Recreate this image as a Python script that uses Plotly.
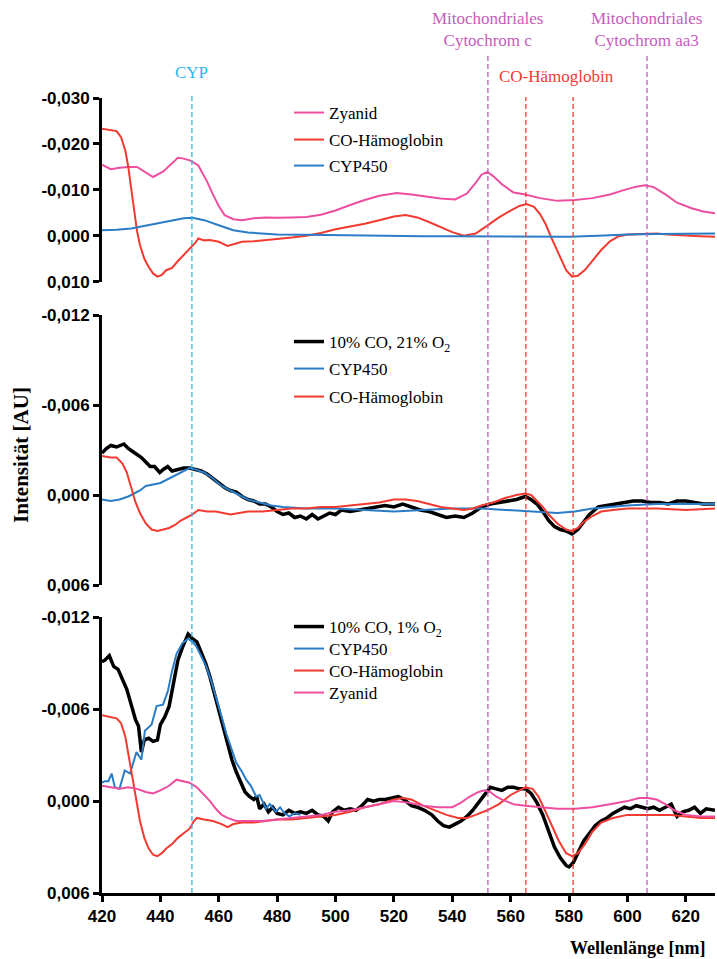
import plotly.graph_objects as go

# ---------------- data ----------------
# Panel 1: reference spectra
p1_cn_wl = [420, 423, 426, 429, 432, 435, 437.5, 441, 444, 446, 448, 450.5, 453, 456, 458, 460, 462, 465, 468,
            472, 476, 480, 485, 490, 495, 500, 505, 510, 515, 521, 526, 531, 536, 541, 545, 548, 550, 552, 554,
            557, 561, 565, 570, 576, 582, 588, 594, 599, 603, 606, 609, 613, 617, 622, 626, 630]
p1_cn_val = [-0.0155, -0.0145, -0.0148, -0.0150, -0.0150, -0.0138, -0.0128, -0.0140, -0.0158, -0.0170, -0.0168,
             -0.0163, -0.0153, -0.0118, -0.0090, -0.0065, -0.0045, -0.0036, -0.0034, -0.0038, -0.0040, -0.0039,
             -0.0040, -0.0041, -0.0046, -0.0055, -0.0067, -0.0078, -0.0087, -0.0093, -0.0090, -0.0085, -0.0081,
             -0.0079, -0.0092, -0.0115, -0.0133, -0.0139, -0.0130, -0.0112, -0.0094, -0.0090, -0.0082, -0.0076,
             -0.0078, -0.0082, -0.0090, -0.0100, -0.0107, -0.0110, -0.0106, -0.0090, -0.0072, -0.0060, -0.0053,
             -0.0049]

p1_hb_wl = [420, 423, 425, 426.5, 428, 429, 430, 431, 432, 433, 434.5, 436, 437.5, 439, 440.5, 442, 444, 446, 448,
            450, 452, 453, 455, 457, 460, 463, 465, 468, 472, 476, 480, 485, 490, 495, 500, 505, 510, 515, 520,
            524, 528, 532, 536, 540, 544, 548, 552, 556, 560, 563, 565.5, 568, 570, 572, 574, 576.5, 579, 581,
            583, 585.5, 588, 591, 594, 597, 600, 605, 610, 615, 620, 625, 630]
p1_hb_val = [-0.0233, -0.0230, -0.0228, -0.0215, -0.0185, -0.0150, -0.0105, -0.0060, -0.0010, 0.0020, 0.0050,
             0.0068, 0.0082, 0.0089, 0.0085, 0.0075, 0.0070, 0.0055, 0.0042, 0.0028, 0.0015, 0.0006, 0.0010,
             0.0009, 0.0013, 0.0022, 0.0018, 0.0013, 0.0012, 0.0010, 0.0008, 0.0004, 0.0000, -0.0006, -0.0014,
             -0.0020, -0.0026, -0.0034, -0.0042, -0.0045, -0.0040, -0.0030, -0.0019, -0.0008, 0.0000, -0.0005,
             -0.0022, -0.0040, -0.0055, -0.0065, -0.0069, -0.0063, -0.0048, -0.0025, 0.0005, 0.0040, 0.0075,
             0.0089, 0.0087, 0.0074, 0.0055, 0.0031, 0.0012, 0.0001, -0.0003, -0.0004, -0.0005, -0.0002, 0.0000,
             0.0001, 0.0002]

p1_cyp_wl = [420, 425, 430, 435, 440, 445, 448, 451, 455, 460, 465, 470, 475, 480, 490, 500, 510, 520, 530, 540,
             550, 560, 570, 580, 590, 600, 610, 620, 630]
p1_cyp_val = [-0.0012, -0.0013, -0.0016, -0.0022, -0.0028, -0.0034, -0.0038, -0.0039, -0.0034, -0.0023, -0.0012,
              -0.0007, -0.0005, -0.0003, -0.0002, -0.0001, 0.0000, 0.0001, 0.0001, 0.0001, 0.0001, 0.0002, 0.0002,
              0.0002, 0.0000, -0.0003, -0.0004, -0.0004, -0.0005]

# Panel 2: 10% CO, 21% O2
p2_meas_wl = [420, 421.5, 423, 425, 427.5, 429, 430.5, 432, 433.5, 435, 436.5, 438, 439.8, 441, 442.5, 444, 446,
              448, 450, 452, 454, 456, 458, 460, 462, 464, 466, 468, 470, 472, 474, 476, 478, 480, 482, 484, 486,
              488, 490, 492, 494, 496, 498, 500, 502, 505, 508, 511, 514, 517, 520, 523, 526, 529, 532, 535, 538,
              541, 544, 547, 550, 553, 556, 559, 562, 565, 567, 569, 571, 573, 575, 577, 579, 581, 583, 585, 587,
              590, 593, 596, 599, 602, 605, 608, 611, 614, 617, 620, 623, 626, 630]
p2_meas_val = [-0.0028, -0.0031, -0.0033, -0.0032, -0.0034, -0.0031, -0.0029, -0.0027, -0.0025, -0.0022, -0.0019,
               -0.0019, -0.0015, -0.0017, -0.0019, -0.0016, -0.0017, -0.0018, -0.0018, -0.0017, -0.0016, -0.0014,
               -0.0011, -0.0008, -0.0005, -0.0003, -0.0002, 0.0001, 0.0003, 0.0004, 0.0006, 0.0006, 0.0008, 0.0011,
               0.0013, 0.0012, 0.0015, 0.0014, 0.0016, 0.0013, 0.0016, 0.0014, 0.0012, 0.0013, 0.0010, 0.0011,
               0.0010, 0.0009, 0.0008, 0.0007, 0.0008, 0.0006, 0.0008, 0.0010, 0.0011, 0.0013, 0.0015, 0.0014,
               0.0015, 0.0012, 0.0008, 0.0006, 0.0005, 0.0004, 0.0003, 0.0001, 0.0003, 0.0006, 0.0011, 0.0017,
               0.0021, 0.0023, 0.0024, 0.0026, 0.0023, 0.0018, 0.0013, 0.0008, 0.0007, 0.0006, 0.0005, 0.0004,
               0.0004, 0.0005, 0.0005, 0.0006, 0.0004, 0.0004, 0.0005, 0.0006, 0.0006]

p2_cyp_wl = [420, 423, 426, 429, 431, 433, 435, 438, 440, 443, 446, 448, 450, 452, 455, 458, 461, 464, 467, 470,
             474, 478, 482, 490, 500, 510, 520, 530, 540, 550, 560, 570, 576, 582, 588, 594, 600, 610, 620, 630]
p2_cyp_val = [0.0003, 0.0004, 0.0003, 0.0001, -0.0001, -0.0003, -0.0006, -0.0007, -0.0008, -0.0011, -0.0014,
              -0.0016, -0.0018, -0.0017, -0.0015, -0.0011, -0.0006, -0.0003, 0.0000, 0.0003, 0.0005, 0.0007,
              0.0008, 0.0009, 0.0009, 0.0010, 0.0011, 0.0010, 0.0009, 0.0009, 0.0010, 0.0011, 0.0012, 0.0011,
              0.0009, 0.0008, 0.0007, 0.0006, 0.0006, 0.0006]

p2_hb_wl = [420, 423, 425, 427, 428.5, 430, 431.5, 433, 435, 437, 439, 441, 443, 445, 447, 449, 451, 453, 456, 459,
            462, 464, 467, 470, 475, 480, 485, 490, 495, 500, 505, 510, 515, 520, 524, 528, 532, 536, 540, 544,
            547, 550, 554, 558, 562, 565, 567, 569, 571, 573, 576, 579, 581, 583, 585, 588, 591, 595, 600, 610,
            620, 630]
p2_hb_val = [-0.0026, -0.0025, -0.0025, -0.0021, -0.0015, -0.0005, 0.0005, 0.0012, 0.0019, 0.0023, 0.0024, 0.0023,
             0.0022, 0.0020, 0.0017, 0.0015, 0.0013, 0.0010, 0.0011, 0.0011, 0.0012, 0.0013, 0.0012, 0.0011,
             0.0011, 0.0010, 0.0009, 0.0009, 0.0008, 0.0008, 0.0007, 0.0006, 0.0005, 0.0003, 0.0003, 0.0004,
             0.0006, 0.0008, 0.0009, 0.0010, 0.0009, 0.0007, 0.0005, 0.0002, 0.0000, -0.0001, 0.0000, 0.0004,
             0.0008, 0.0013, 0.0019, 0.0023, 0.0024, 0.0022, 0.0018, 0.0014, 0.0011, 0.0010, 0.0009, 0.0009,
             0.0010, 0.0009]

# Panel 3: 10% CO, 1% O2
p3_meas_wl = [420, 421, 422.5, 424, 425.5, 427, 428.5, 430, 431.5, 432.5, 433.5, 434.5, 436, 437.5, 439, 440,
              441.5, 443, 444.5, 446, 447.5, 449.5, 451, 452.5, 454, 455.5, 457, 458.5, 460, 461.5, 463, 464.5,
              466, 467.5, 469, 470.5, 472, 473, 474, 475.5, 477, 478.5, 480, 482, 484, 486, 488, 490, 492, 494,
              496, 497.5, 499, 501, 503, 505, 507, 509, 511, 513, 515, 517, 519, 521.5, 523.5, 526, 528, 530.5,
              533, 535, 537, 539, 541, 543, 545, 547, 549, 551, 553, 555, 557, 559, 561, 563, 565, 567, 569, 571,
              573, 575, 577, 579, 580, 581.5, 583, 585, 587, 589, 591, 593, 595, 597, 599, 601, 603, 605, 607,
              609, 611, 613, 615, 617, 619, 621, 623, 625, 627, 630]
p3_meas_val = [-0.0091, -0.0092, -0.0095, -0.0088, -0.0086, -0.0079, -0.0073, -0.0063, -0.0053, -0.0049, -0.0032,
               -0.0040, -0.0041, -0.0039, -0.0040, -0.0050, -0.0055, -0.0062, -0.0078, -0.0092, -0.0100, -0.0109,
               -0.0106, -0.0104, -0.0097, -0.0090, -0.0081, -0.0070, -0.0058, -0.0047, -0.0036, -0.0027, -0.0019,
               -0.0013, -0.0006, -0.0003, -0.0001, -0.0003, 0.0005, 0.0002, 0.0007, 0.0004, 0.0008, 0.0009,
               0.0006, 0.0008, 0.0007, 0.0008, 0.0006, 0.0009, 0.0010, 0.0013, 0.0007, 0.0004, 0.0006, 0.0005,
               0.0006, 0.0003, -0.0001, 0.0000, -0.0001, -0.0001, -0.0002, -0.0003, -0.0001, 0.0003, 0.0004,
               0.0006, 0.0009, 0.0013, 0.0016, 0.0017, 0.0015, 0.0013, 0.0010, 0.0006, 0.0001, -0.0004, -0.0009,
               -0.0008, -0.0007, -0.0009, -0.0009, -0.0008, -0.0008, -0.0005, 0.0001, 0.0009, 0.0019, 0.0030,
               0.0037, 0.0042, 0.0043, 0.0040, 0.0034, 0.0026, 0.0021, 0.0016, 0.0013, 0.0011, 0.0008, 0.0006,
               0.0004, 0.0005, 0.0003, 0.0004, 0.0005, 0.0004, 0.0006, 0.0004, 0.0002, 0.0010, 0.0007, 0.0006,
               0.0004, 0.0008, 0.0005, 0.0006]

p3_cyp_wl = [420, 421, 422.2, 423.3, 424.4, 426, 427.8, 429.6, 431.8, 433.5, 434.7, 437, 438.7, 440.9, 442.6, 444,
             445.5, 447.5, 449.5, 451, 452.3, 454, 455.7, 457.5, 459.1, 461, 462.6, 464.3, 466, 468, 469.4, 471,
             472.8, 474, 475, 476.2, 477.5, 479.6, 481, 482.5, 484.2, 486, 488]
p3_cyp_val = [-0.0012, -0.0013, -0.0013, -0.0018, -0.0009, -0.0008, -0.0020, -0.0018, -0.0032, -0.0027, -0.0046,
              -0.0050, -0.0062, -0.0063, -0.0072, -0.0085, -0.0096, -0.0103, -0.0106, -0.0104, -0.0101, -0.0095,
              -0.0088, -0.0078, -0.0068, -0.0055, -0.0044, -0.0034, -0.0025, -0.0019, -0.0014, -0.0010, -0.0003,
              -0.0004, 0.0000, 0.0005, 0.0002, 0.0007, 0.0004, 0.0008, 0.0010, 0.0008, 0.0009]

p3_hb_wl = [420, 423, 425, 426.5, 428, 429, 430, 431, 432, 433, 434.5, 436, 437.5, 439, 440.5, 442, 444, 446, 448,
            450, 451.5, 452.5, 455, 458, 461, 463, 465, 468, 472, 476, 480, 485, 490, 495, 500, 505, 510, 515, 520,
            523, 526, 530, 534, 538, 542, 545, 548, 552, 556, 560, 563, 565, 567.5, 569.5, 571.5, 574, 576.5, 579,
            581, 583, 585.5, 588, 591, 595, 600, 605, 610, 615, 620, 625, 630]
p3_hb_val = [-0.0056, -0.0055, -0.0054, -0.0051, -0.0042, -0.0031, -0.0020, -0.0008, 0.0003, 0.0013, 0.0024,
             0.0031, 0.0035, 0.0036, 0.0034, 0.0031, 0.0028, 0.0024, 0.0021, 0.0018, 0.0013, 0.0011, 0.0012,
             0.0013, 0.0015, 0.0017, 0.0015, 0.0014, 0.0014, 0.0013, 0.0012, 0.0012, 0.0011, 0.0010, 0.0009,
             0.0007, 0.0004, 0.0002, -0.0001, -0.0002, -0.0001, 0.0003, 0.0006, 0.0009, 0.0011, 0.0011, 0.0009,
             0.0006, 0.0002, -0.0004, -0.0007, -0.0009, -0.0008, -0.0003, 0.0005, 0.0015, 0.0026, 0.0034, 0.0036,
             0.0034, 0.0028, 0.0020, 0.0014, 0.0011, 0.0009, 0.0009, 0.0009, 0.0009, 0.0010, 0.0011, 0.0011]

p3_cn_wl = [420, 423, 426, 429, 432, 435, 437.5, 440, 443, 445.5, 447.5, 450, 452.5, 455, 457, 459, 461, 463, 466,
            470, 475, 480, 485, 490, 495, 500, 505, 510, 515, 520, 525, 530, 535, 540, 543, 546, 549, 551, 553,
            555, 557, 561, 565, 570, 576, 582, 588, 594, 600, 604, 607, 610, 613, 616, 620, 625, 630]
p3_cn_val = [-0.0010, -0.0009, -0.0008, -0.0009, -0.0008, -0.0006, -0.0005, -0.0007, -0.0010, -0.0014, -0.0013,
             -0.0012, -0.0009, -0.0004, 0.0000, 0.0005, 0.0009, 0.0011, 0.0013, 0.0013, 0.0013, 0.0012, 0.0011,
             0.0010, 0.0009, 0.0007, 0.0006, 0.0004, 0.0002, 0.0000, 0.0001, 0.0003, 0.0004, 0.0004, 0.0001,
             -0.0003, -0.0006, -0.0007, -0.0006, -0.0003, -0.0001, 0.0002, 0.0003, 0.0004, 0.0005, 0.0005, 0.0004,
             0.0002, 0.0000, -0.0002, -0.0002, -0.0001, 0.0002, 0.0006, 0.0009, 0.0010, 0.0010]

# marker wavelengths (nm) of the characteristic bands
cyp_band = [450.8]
mito_bands = [552.2, 606.7]
mito_labels = ["Mitochondriales<br>Cytochrom c", "Mitochondriales<br>Cytochrom aa3"]
cohb_bands = [565.2, 581.4]
cohb_label_x = 575.8

# axes
x_ticks = [420, 440, 460, 480, 500, 520, 540, 560, 580, 600, 620]
p1_ticks = [-0.030, -0.020, -0.010, 0.000, 0.010]
p1_ticktext = ["-0,030", "-0,020", "-0,010", "0,000", "0,010"]
p23_ticks = [-0.012, -0.006, 0.000, 0.006]
p23_ticktext = ["-0,012", "-0,006", "0,000", "0,006"]

# ---------------- style ----------------
C_CN = "#ee4e9f"
C_HB = "#f23a30"
C_CYP = "#2a7cc6"
C_MEAS = "#000000"
C_CYP_MARK = "#2ab6e6"
C_MITO_MARK = "#c45cbd"

W, H = 717, 959
ML, MR, MT, MB = 102, 2, 98, 66
plot_h = H - MT - MB
plot_w = W - ML - MR
base = H - MB


def fy(py):
    """pixel row -> paper fraction"""
    return (base - py) / plot_h


def fx(px):
    """pixel column -> paper fraction"""
    return (px - ML) / plot_w


def dom(py_bottom, py_top):
    return [max(0.0, fy(py_bottom)), min(1.0, fy(py_top))]


SERIF = "Liberation Serif"
SANS = "Liberation Sans"

fig = go.Figure()

# each legend entry is its own small legend so that the rows can sit freely
LEG_X = 289
legend_layout = {}
legend_count = [0]


def add(x, y, name, color, width, yaxis, row_py):
    legend_count[0] += 1
    key = "legend" if legend_count[0] == 1 else f"legend{legend_count[0]}"
    legend_layout[key] = dict(
        x=fx(LEG_X), y=fy(row_py - 17), xanchor="left", yanchor="top",
        font=dict(family=SERIF, size=17, color="black"), bgcolor="rgba(0,0,0,0)", itemwidth=30,
    )
    fig.add_trace(go.Scatter(
        x=x, y=y, name=name, mode="lines",
        line=dict(color=color, width=width),
        xaxis="x", yaxis=yaxis, legend=key,
    ))


add(p1_cn_wl, p1_cn_val, "Zyanid", C_CN, 2, "y", 112)
add(p1_hb_wl, p1_hb_val, "CO-Hämoglobin", C_HB, 2, "y", 139)
add(p1_cyp_wl, p1_cyp_val, "CYP450", C_CYP, 2, "y", 165)

add(p2_meas_wl, p2_meas_val, "10% CO, 21% O<sub>2</sub>", C_MEAS, 3.5, "y2", 341)
add(p2_cyp_wl, p2_cyp_val, "CYP450", C_CYP, 2, "y2", 368)
add(p2_hb_wl, p2_hb_val, "CO-Hämoglobin", C_HB, 2, "y2", 396)

add(p3_meas_wl, p3_meas_val, "10% CO, 1% O<sub>2</sub>", C_MEAS, 3.5, "y3", 626)
add(p3_cyp_wl, p3_cyp_val, "CYP450", C_CYP, 2, "y3", 648)
add(p3_hb_wl, p3_hb_val, "CO-Hämoglobin", C_HB, 2, "y3", 670)
add(p3_cn_wl, p3_cn_val, "Zyanid", C_CN, 2, "y3", 692)

tickfont = dict(family=SANS, size=17, color="black", weight="bold")
yax_common = dict(
    anchor="x", showgrid=False, zeroline=False, showline=True, linecolor="black", linewidth=3,
    ticks="outside", ticklen=6, tickwidth=2.5, tickcolor="black", tickfont=tickfont, fixedrange=True,
)

fig.update_layout(
    width=W, height=H,
    margin=dict(l=ML, r=MR, t=MT, b=MB),
    paper_bgcolor="white", plot_bgcolor="rgba(0,0,0,0)",
    showlegend=True,
    xaxis=dict(
        range=[420, 630], anchor="y3", tickvals=x_ticks, showgrid=False, zeroline=False,
        showline=True, linecolor="black", linewidth=3, ticks="outside", ticklen=6, tickwidth=2.5,
        tickcolor="black", tickfont=tickfont,
    ),
    yaxis=dict(domain=dom(281.7, 97.7), range=[0.010, -0.030],
               tickvals=p1_ticks, ticktext=p1_ticktext, **yax_common),
    yaxis2=dict(domain=dom(585, 315), range=[0.006, -0.012],
                tickvals=p23_ticks, ticktext=p23_ticktext, **yax_common),
    yaxis3=dict(domain=dom(893, 617.3), range=[0.006, -0.012],
                tickvals=p23_ticks, ticktext=p23_ticktext, **yax_common),
    **legend_layout,
)

# dashed band markers
shapes = []
for b in cyp_band:
    shapes.append(dict(type="line", xref="x", yref="paper", x0=b, x1=b, y0=0, y1=fy(95),
                       line=dict(color=C_CYP_MARK, width=1.3, dash="5px,3px")))
for b in mito_bands:
    shapes.append(dict(type="line", xref="x", yref="paper", x0=b, x1=b, y0=0, y1=fy(55),
                       line=dict(color=C_MITO_MARK, width=1.3, dash="5px,3px")))
for b in cohb_bands:
    shapes.append(dict(type="line", xref="x", yref="paper", x0=b, x1=b, y0=0, y1=fy(97),
                       line=dict(color=C_HB, width=1.3, dash="5px,3px")))
fig.update_layout(shapes=shapes)

ann_font = dict(family=SERIF, size=17)
annotations = [
    dict(x=cyp_band[0], y=fy(72), xref="x", yref="paper", text="CYP", showarrow=False,
         font=dict(color=C_CYP_MARK, **ann_font), xanchor="center", yanchor="middle"),
    dict(x=cohb_label_x, y=fy(76), xref="x", yref="paper", text="CO-Hämoglobin", showarrow=False,
         font=dict(color=C_HB, **ann_font), xanchor="center", yanchor="middle"),
]
for b, lab in zip(mito_bands, mito_labels):
    annotations.append(dict(x=b, y=fy(29), xref="x", yref="paper", text=lab, showarrow=False,
                            font=dict(color=C_MITO_MARK, **ann_font), xanchor="center", yanchor="middle"))
annotations.append(dict(x=fx(21), y=fy(455), xref="paper", yref="paper",
                        text="<b>Intensität [AU]</b>", textangle=-90, showarrow=False,
                        font=dict(family=SERIF, size=21, color="black"), xanchor="center", yanchor="middle"))
annotations.append(dict(x=fx(638), y=fy(948), xref="paper", yref="paper",
                        text="<b>Wellenlänge [nm]</b>", showarrow=False,
                        font=dict(family=SERIF, size=18, color="black"), xanchor="center", yanchor="middle"))
fig.update_layout(annotations=annotations)

fig.write_html("out.html")
